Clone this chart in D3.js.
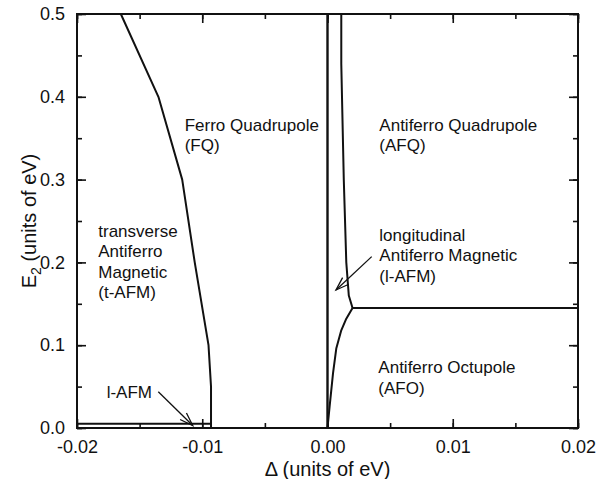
<!DOCTYPE html>
<html>
<head>
<meta charset="utf-8">
<script src="https://cdn.jsdelivr.net/npm/d3@7"></script>
<style>
    body { margin: 0; background: #fff; }
    svg text { font-family: "Liberation Sans", Arial, Helvetica, sans-serif; fill: #111; }
</style>
</head>
<body>
<svg id="chart" width="596" height="479"></svg>
<script>
// phase boundaries (delta in eV, E2 in eV)
const tafm_delta = [-0.0165, -0.0135, -0.0116, -0.0106, -0.0095, -0.0093, -0.0093];
const tafm_e2 = [0.5, 0.4, 0.3, 0.2, 0.1, 0.05, 0.0];

const lafm_band_delta = [-0.02, -0.0093];
const lafm_band_e2 = [0.005, 0.005];

const zero_line_delta = [0, 0];
const zero_line_e2 = [0, 0.5];

const afq_delta = [0.0011, 0.0011, 0.0013, 0.0015, 0.0017, 0.002];
const afq_e2 = [0.5, 0.44, 0.3, 0.2, 0.16, 0.145];

const afo_delta = [0, 0.00017, 0.00044, 0.0007, 0.0011, 0.0015, 0.002];
const afo_e2 = [0, 0.026, 0.066, 0.096, 0.118, 0.132, 0.145];

const afo_afq_delta = [0.002, 0.02];
const afo_afq_e2 = [0.145, 0.145];

const x_ticks = [-0.02, -0.01, 0.00, 0.01, 0.02];
const x_tick_labels = ['-0.02', '-0.01', '0.00', '0.01', '0.02'];
const y_ticks = [0.0, 0.1, 0.2, 0.3, 0.4, 0.5];
const y_tick_labels = ['0.0', '0.1', '0.2', '0.3', '0.4', '0.5'];

// region names, anchored at (delta, E2) of the first line
const label_lines = [
    ['Ferro Quadrupole', '(FQ)'],
    ['Antiferro Quadrupole', '(AFQ)'],
    ['transverse', 'Antiferro', 'Magnetic', '(t-AFM)'],
    ['longitudinal', 'Antiferro Magnetic', '(l-AFM)'],
    ['Antiferro Octupole', '(AFO)'],
    ['l-AFM']
];
const label_delta = [-0.0114, 0.00414, -0.0183, 0.00414, 0.00406, -0.01763];
const label_e2 = [0.359, 0.359, 0.231, 0.226, 0.066, 0.036];

// arrows: from -> to
const arrow_from_delta = [-0.01351, 0.00353];
const arrow_from_e2 = [0.0438, 0.207];
const arrow_to_delta = [-0.01076, 0.00068];
const arrow_to_e2 = [0.003, 0.1667];

let margin = {left: 77, right: 18, top: 14, bottom: 51};
let width = 596, height = 479;

let svg = d3.select('#chart');

let x = d3.scaleLinear().domain([-0.02, 0.02]).range([margin.left, width - margin.right]);
let y = d3.scaleLinear().domain([0, 0.5]).range([height - margin.bottom, margin.top]);

let minor_x = d3.range(-0.02, 0.0201, 0.005);
let minor_y = d3.range(0, 0.501, 0.05);

// ticks, all pointing inward on all four sides
let bottom_axis = d3.axisBottom(x).tickValues(x_ticks).tickSize(-9).tickPadding(12)
    .tickFormat((d, i) => x_tick_labels[i]);
let top_axis = d3.axisTop(x).tickValues(x_ticks).tickSize(-9).tickFormat('');
let left_axis = d3.axisLeft(y).tickValues(y_ticks).tickSize(-9).tickPadding(12)
    .tickFormat((d, i) => y_tick_labels[i]);
let right_axis = d3.axisRight(y).tickValues(y_ticks).tickSize(-9).tickFormat('');

function draw_axis(axis, tx, ty) {
    let g = svg.append('g').attr('transform', 'translate(' + tx + ',' + ty + ')').call(axis);
    g.select('.domain').remove();
    g.selectAll('.tick line').attr('stroke', '#111').attr('stroke-width', 1.6);
    g.selectAll('.tick text').style('font-size', '18px').attr('fill', '#111');
    return g;
}

draw_axis(d3.axisBottom(x).tickValues(minor_x).tickSize(-5).tickFormat(''), 0, height - margin.bottom);
draw_axis(d3.axisTop(x).tickValues(minor_x).tickSize(-5).tickFormat(''), 0, margin.top);
draw_axis(d3.axisLeft(y).tickValues(minor_y).tickSize(-5).tickFormat(''), margin.left, 0);
draw_axis(d3.axisRight(y).tickValues(minor_y).tickSize(-5).tickFormat(''), width - margin.right, 0);

draw_axis(bottom_axis, 0, height - margin.bottom);
draw_axis(top_axis, 0, margin.top);
draw_axis(left_axis, margin.left, 0);
draw_axis(right_axis, width - margin.right, 0);

// frame
svg.append('rect')
    .attr('x', x(-0.02)).attr('y', y(0.5))
    .attr('width', x(0.02) - x(-0.02)).attr('height', y(0) - y(0.5))
    .attr('fill', 'none').attr('stroke', '#111').attr('stroke-width', 2);

let line = d3.line().x(d => x(d[0])).y(d => y(d[1]));

function draw_boundary(deltas, e2s, w) {
    svg.append('path')
        .datum(d3.zip(deltas, e2s))
        .attr('d', line)
        .attr('fill', 'none')
        .attr('stroke', '#111')
        .attr('stroke-width', w)
        .attr('stroke-linejoin', 'round');
}

draw_boundary(tafm_delta, tafm_e2, 2);
draw_boundary(lafm_band_delta, lafm_band_e2, 2);
draw_boundary(zero_line_delta, zero_line_e2, 2.4);
draw_boundary(afq_delta, afq_e2, 2);
draw_boundary(afo_delta, afo_e2, 2);
draw_boundary(afo_afq_delta, afo_afq_e2, 2);

// region labels
for (let i = 0; i < label_lines.length; i++) {
    let t = svg.append('text')
        .attr('x', x(label_delta[i]))
        .attr('y', y(label_e2[i]))
        .style('font-size', '17px');
    label_lines[i].forEach((s, j) => {
        t.append('tspan').attr('x', x(label_delta[i])).attr('dy', j === 0 ? 0 : 20.5).text(s);
    });
}

// arrows with open heads
for (let i = 0; i < arrow_from_delta.length; i++) {
    let x0 = x(arrow_from_delta[i]), y0 = y(arrow_from_e2[i]);
    let x1 = x(arrow_to_delta[i]), y1 = y(arrow_to_e2[i]);
    let a = Math.atan2(y1 - y0, x1 - x0);
    let head = 14, spread = 0.33;
    svg.append('line')
        .attr('x1', x0).attr('y1', y0).attr('x2', x1).attr('y2', y1)
        .attr('stroke', '#111').attr('stroke-width', 1.3);
    svg.append('path')
        .attr('d', 'M' + (x1 - head * Math.cos(a - spread)) + ',' + (y1 - head * Math.sin(a - spread)) +
            'L' + x1 + ',' + y1 +
            'L' + (x1 - head * Math.cos(a + spread)) + ',' + (y1 - head * Math.sin(a + spread)))
        .attr('fill', 'none').attr('stroke', '#111').attr('stroke-width', 1.3);
}

// axis titles
svg.append('text')
    .attr('x', (x(-0.02) + x(0.02)) / 2)
    .attr('y', 476)
    .attr('text-anchor', 'middle')
    .style('font-size', '20px')
    .text('\u0394 (units of eV)');

let y_title = svg.append('text')
    .attr('transform', 'translate(36,' + ((y(0) + y(0.5)) / 2) + ') rotate(-90)')
    .attr('text-anchor', 'middle')
    .style('font-size', '20px');
y_title.append('tspan').text('E');
y_title.append('tspan').attr('dy', 5).style('font-size', '14px').text('2');
y_title.append('tspan').attr('dy', -5).text(' (units of eV)');
</script>
</body>
</html>
